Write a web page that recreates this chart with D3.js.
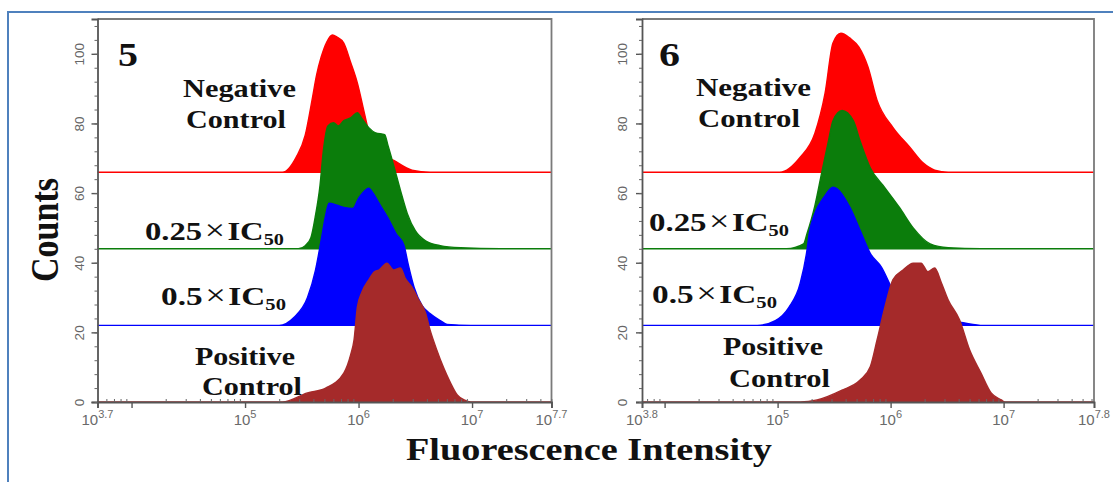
<!DOCTYPE html>
<html>
<head>
<meta charset="utf-8">
<script src="https://cdn.jsdelivr.net/npm/d3@7"></script>
<style>
  html, body { margin: 0; padding: 0; background: #fff; }
  svg { display: block; }
</style>
</head>
<body>
<svg id="chart" width="1113" height="482"></svg>
<script>
// Flow-cytometry overlays for compounds 5 and 6: four stacked histograms per panel
// on a log fluorescence axis.

const sampleColors  = ["#ff0000", "#0b7d0b", "#0000ff", "#a52a2a"];
const sampleOffsets = [66, 44, 22, 0];          // each overlay is lifted by this many counts
const countTicks    = [0, 20, 40, 60, 80, 100];
const xLabelExps5   = [3.7, 5, 6, 7, 7.7];
const xLabelExps6   = [3.8, 5, 6, 7, 7.8];

// compound 5 — [log10 intensity, counts above the overlay's own baseline]
const neg5  = [[5.33,0],[5.45,4.3],[5.53,10.6],[5.59,20.7],[5.63,27.9],[5.67,33.0],[5.72,37.4],[5.77,39.4],[5.81,38.8],[5.87,37.1],[5.93,31.6],[5.99,25.6],[6.05,17.2],[6.11,9.2],[6.19,5.7],[6.31,3.4],[6.47,0.6],[6.63,0]];
const q25_5 = [[5.47,0],[5.53,0.9],[5.58,3.2],[5.62,9.5],[5.66,18.1],[5.69,28.2],[5.73,35.3],[5.78,36.2],[5.82,35.3],[5.87,36.8],[5.93,37.6],[5.99,39.1],[6.03,37.4],[6.09,34.8],[6.15,33.3],[6.23,32.8],[6.26,29.6],[6.31,23.9],[6.37,16.7],[6.43,10.1],[6.50,5.2],[6.59,2.3],[6.72,0.9],[6.90,0.3],[7.25,0]];
const half5 = [[5.30,0],[5.43,2.3],[5.55,8.0],[5.62,15.8],[5.67,24.4],[5.71,31.6],[5.74,35.1],[5.81,34.5],[5.87,33.9],[5.95,33.6],[6.00,36.5],[6.04,38.2],[6.09,39.4],[6.13,37.9],[6.18,35.1],[6.27,30.2],[6.33,26.4],[6.40,23.0],[6.44,17.2],[6.49,10.9],[6.56,5.7],[6.63,3.4],[6.72,1.4],[6.78,0.3],[6.99,0]];
const pos5  = [[5.33,0],[5.55,2.6],[5.71,4.0],[5.87,8.3],[5.93,13.5],[5.96,17.8],[5.99,27.3],[6.03,31.6],[6.09,35.1],[6.14,37.4],[6.18,37.9],[6.25,39.9],[6.31,37.9],[6.37,38.5],[6.41,35.6],[6.47,33.0],[6.53,29.3],[6.59,25.6],[6.63,20.7],[6.69,14.9],[6.75,9.8],[6.81,5.5],[6.87,2.0],[6.93,0.6],[6.99,0]];

// compound 6
const neg6  = [[5.02,0],[5.20,4.3],[5.33,11.2],[5.42,22.7],[5.49,37.1],[5.56,39.9],[5.64,38.5],[5.72,35.9],[5.80,30.2],[5.88,20.7],[6.02,12.9],[6.17,7.2],[6.29,2.6],[6.39,0.6],[6.51,0]];
const q25_6 = [[5.08,0],[5.23,1.4],[5.26,4.3],[5.33,12.4],[5.39,21.8],[5.45,31.0],[5.49,36.8],[5.57,39.7],[5.67,36.8],[5.73,31.0],[5.82,23.3],[5.95,17.5],[6.08,11.8],[6.20,6.0],[6.35,1.4],[6.51,0.3],[6.80,0]];
const half6 = [[4.82,0],[4.98,1.4],[5.10,5.2],[5.20,12.1],[5.26,21.6],[5.28,26.4],[5.33,32.2],[5.41,36.8],[5.49,39.7],[5.64,33.9],[5.73,27.3],[5.82,20.7],[5.92,16.7],[6.02,10.1],[6.11,5.2],[6.20,2.0],[6.61,0.9],[6.82,0]];
const pos6  = [[5.20,0],[5.35,0.6],[5.57,3.4],[5.73,6.3],[5.82,10.1],[5.88,17.8],[5.95,27.3],[6.02,35.1],[6.11,37.9],[6.20,39.9],[6.27,39.9],[6.33,37.4],[6.39,38.5],[6.45,34.2],[6.51,29.3],[6.61,23.6],[6.70,14.9],[6.80,8.3],[6.89,2.6],[6.98,0.6],[7.01,0]];

const W = 1113, H = 482;
const SERIF = "'Liberation Serif','Times New Roman',serif";
const SANS  = "'Liberation Sans',Arial,sans-serif";
const svg = d3.select("#chart");

// page frame (top and left rule)
svg.append("line").attr("x1", 8).attr("y1", 12).attr("x2", W).attr("y2", 12)
  .attr("stroke", "#4f81bd").attr("stroke-width", 2);
svg.append("line").attr("x1", 8).attr("y1", 11).attr("x2", 8).attr("y2", H)
  .attr("stroke", "#4f81bd").attr("stroke-width", 2);

// bold serif label built from parts, squeezed/stretched to a given width
function fitLabel(parent, parts, x, y, width, size) {
  const t = parent.append("text")
    .attr("x", 0).attr("y", 0)
    .attr("font-family", SERIF).attr("font-weight", "bold")
    .attr("font-size", size).attr("fill", "#111");
  parts.forEach(p => {
    const s = t.append("tspan").text(p.t);
    if (p.dx) s.attr("dx", p.dx);
    if (p.thin) s.attr("font-weight", "normal").attr("font-size", size * 1.1);
    if (p.sub) s.attr("font-size", size * 0.62).attr("dy", size * 0.2);
  });
  const bw = t.node().getBBox().width;
  t.attr("transform", `translate(${x},${y}) scale(${width / bw},1)`);
  return t;
}

const icParts = dose => [{t: dose}, {t: "×", thin: true, dx: 2}, {t: "IC", dx: 2}, {t: "50", sub: true}];

const panels = [
  {
    tag: "5", exps: [3.7, 7.7], labelExps: xLabelExps5,
    series: [neg5, q25_5, half5, pos5],
    left: 97.5, right: 551.5, tagX: 118, tagW: 20,
    labels: [
      {parts: [{t: "Negative"}], x: 183, y: 97, w: 113},
      {parts: [{t: "Control"}],  x: 186, y: 128, w: 100},
      {parts: icParts("0.25"),   x: 145, y: 240, w: 139},
      {parts: icParts("0.5"),    x: 161, y: 305, w: 125},
      {parts: [{t: "Positive"}], x: 195, y: 365, w: 100},
      {parts: [{t: "Control"}],  x: 202, y: 395, w: 100}
    ]
  },
  {
    tag: "6", exps: [3.8, 7.8], labelExps: xLabelExps6,
    series: [neg6, q25_6, half6, pos6],
    left: 642, right: 1094, tagX: 659, tagW: 21,
    labels: [
      {parts: [{t: "Negative"}], x: 696, y: 96, w: 115},
      {parts: [{t: "Control"}],  x: 698, y: 127, w: 102},
      {parts: icParts("0.25"),   x: 649, y: 231, w: 140},
      {parts: icParts("0.5"),    x: 652, y: 303, w: 125},
      {parts: [{t: "Positive"}], x: 723, y: 355, w: 100},
      {parts: [{t: "Control"}],  x: 729, y: 387, w: 101}
    ]
  }
];

const TOP = 19, BOTTOM = 402;
const y = d3.scaleLinear().domain([0, 110]).range([BOTTOM, TOP]);

panels.forEach((p, pi) => {
  const g = svg.append("g");
  const x = d3.scaleLog().domain([10 ** p.exps[0], 10 ** p.exps[1]]).range([p.left, p.right]);

  const clipId = "plot-clip-" + pi;
  g.append("clipPath").attr("id", clipId).append("rect")
    .attr("x", p.left).attr("y", TOP).attr("width", p.right - p.left).attr("height", BOTTOM - TOP);

  const plot = g.append("g").attr("clip-path", `url(#${clipId})`);

  p.series.forEach((data, si) => {
    const off = sampleOffsets[si];
    const full = [[p.exps[0], 0], ...data, [p.exps[1], 0]];
    const area = d3.area()
      .x(d => x(10 ** d[0]))
      .y0(y(off))
      .y1(d => y(off + d[1]))
      .curve(d3.curveMonotoneX);
    plot.append("path").datum(full)
      .attr("d", area)
      .attr("fill", sampleColors[si])
      .attr("stroke", sampleColors[si])
      .attr("stroke-width", 1.4)
      .attr("stroke-linejoin", "round");
  });

  // plot frame (top and right edges)
  g.append("path")
    .attr("d", `M${p.left},${TOP}H${p.right}V${BOTTOM}`)
    .attr("fill", "none").attr("stroke", "#7a7a7a").attr("stroke-width", 1.8);

  // x axis: decade ticks, log minor ticks, labels as 10 with superscript
  const lo = p.exps[0], hi = p.exps[1];
  const majors = [lo];
  for (let e = Math.ceil(lo); e <= Math.floor(hi); e++) if (e !== lo) majors.push(e);
  majors.push(hi);
  const minors = [];
  for (let e = Math.floor(lo); e < Math.ceil(hi); e++) {
    for (let k = 2; k <= 9; k++) {
      const v = Math.log10(k) + e;
      if (v > lo && v < hi) minors.push(10 ** v);
    }
  }

  const xAxis = g.append("g").attr("transform", `translate(0,${BOTTOM})`)
    .call(d3.axisBottom(x).tickValues(majors.map(e => 10 ** e)).tickSize(6).tickFormat(() => ""));
  xAxis.select(".domain").attr("stroke", "#555").attr("stroke-width", 1.8);
  xAxis.selectAll(".tick line").attr("stroke", "#555").attr("stroke-width", 1.4);

  const xMinor = g.append("g").attr("transform", `translate(0,${BOTTOM})`)
    .call(d3.axisBottom(x).tickValues(minors).tickSize(-3).tickFormat(() => ""));
  xMinor.select(".domain").remove();
  xMinor.selectAll(".tick line").attr("stroke", "#666").attr("stroke-width", 1);

  p.labelExps.forEach(e => {
    const t = g.append("text")
      .attr("x", x(10 ** e)).attr("y", BOTTOM + 23)
      .attr("text-anchor", "middle")
      .attr("font-family", SANS).attr("font-size", 15).attr("fill", "#6a6a6a");
    t.append("tspan").text("10");
    t.append("tspan").text(String(e)).attr("font-size", 11).attr("dy", -7);
  });

  // y axis with minor ticks every 4 counts, rotated labels
  const yAxis = g.append("g").attr("transform", `translate(${p.left},0)`)
    .call(d3.axisLeft(y).tickValues(countTicks).tickSize(6).tickFormat(d3.format("d")));
  yAxis.select(".domain").attr("stroke", "#555").attr("stroke-width", 1.8);
  yAxis.selectAll(".tick line").attr("stroke", "#555").attr("stroke-width", 1.4);
  yAxis.selectAll(".tick text")
    .attr("transform", "rotate(-90)")
    .attr("x", 0).attr("y", pi === 0 ? -14 : -15).attr("dy", 0)
    .attr("text-anchor", "middle")
    .attr("font-family", SANS).attr("font-size", 13.5).attr("fill", "#666");

  const yMinor = g.append("g").attr("transform", `translate(${p.left},0)`)
    .call(d3.axisLeft(y).tickValues(d3.range(0, 110, 4)).tickSize(3).tickFormat(() => ""));
  yMinor.select(".domain").remove();
  yMinor.selectAll(".tick line").attr("stroke", "#666").attr("stroke-width", 1);

  // panel number and sample labels
  fitLabel(g, [{t: p.tag}], p.tagX, 66, p.tagW, 33);
  p.labels.forEach(l => fitLabel(g, l.parts, l.x, l.y, l.w, 26));
});

// shared axis titles
svg.append("text")
  .attr("transform", "translate(58,230) rotate(-90) scale(1,1.2)")
  .attr("text-anchor", "middle")
  .attr("font-family", SERIF).attr("font-weight", "bold")
  .attr("font-size", 34).attr("fill", "#111")
  .text("Counts");

fitLabel(svg, [{t: "Fluorescence Intensity"}], 406, 460, 366, 32);
</script>
</body>
</html>
